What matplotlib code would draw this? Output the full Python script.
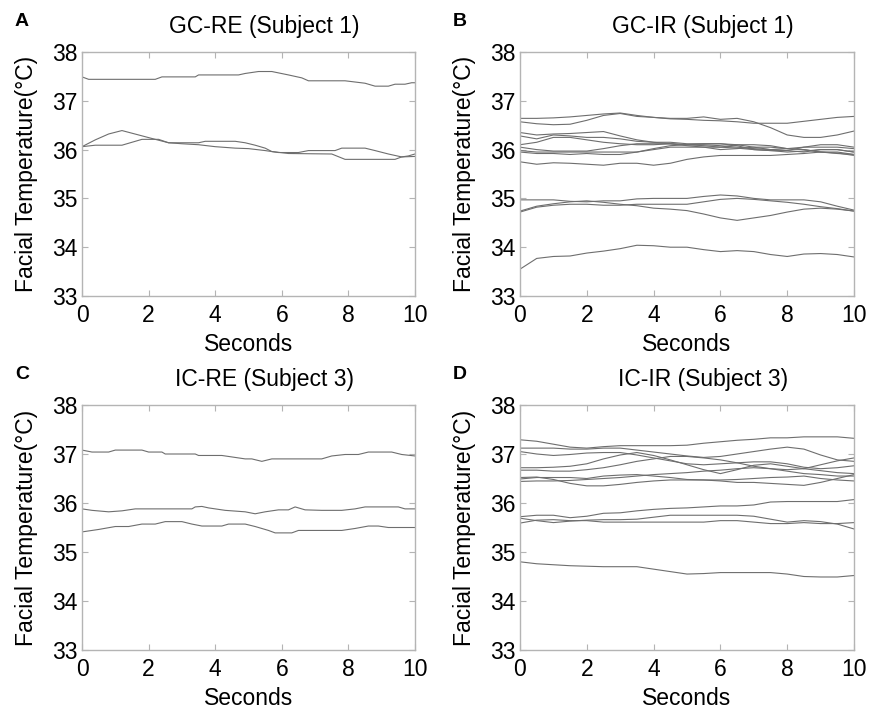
import matplotlib
matplotlib.use('Agg')
import matplotlib.pyplot as plt
import numpy as np

plt.rcParams['font.family'] = ['Liberation Sans', 'DejaVu Sans']

# common time grid (seconds) for the busy panels
t_grid = [0, 0.5, 1, 1.5, 2, 2.5, 3, 3.5, 4, 4.5, 5, 5.5, 6, 6.5, 7, 7.5, 8, 8.5, 9, 9.5, 10]

# ---- A: GC-RE (Subject 1)
a1_t = [0, 0.2, 2.2, 2.4, 3.4, 3.5, 4.7, 4.9, 5.3, 5.7, 6.2, 6.6, 6.8, 7.9, 8.5, 8.8, 9.2, 9.4, 9.7, 9.9, 10]
a1_v = [37.49, 37.44, 37.44, 37.49, 37.49, 37.53, 37.53, 37.56, 37.60, 37.60, 37.53, 37.47, 37.41, 37.41,
        37.36, 37.30, 37.30, 37.34, 37.34, 37.37, 37.37]
a2_t = [0, 0.4, 0.8, 1.2, 1.7, 2.2, 2.6, 3.0, 3.5, 4.0, 4.6, 5.0, 5.5, 5.9, 6.5, 6.8, 7.6, 7.8, 8.5, 8.8,
        9.2, 9.6, 9.8, 10]
a2_v = [36.06, 36.20, 36.32, 36.39, 36.30, 36.21, 36.14, 36.12, 36.10, 36.06, 36.03, 36.02, 35.98, 35.94,
        35.94, 35.98, 35.98, 36.03, 36.03, 35.98, 35.91, 35.85, 35.87, 35.91]
a3_t = [0, 0.4, 1.2, 1.5, 1.8, 2.3, 2.6, 3.5, 3.7, 4.6, 4.9, 5.2, 5.5, 5.7, 6.2, 7.5, 7.9, 9.4, 9.6, 10]
a3_v = [36.06, 36.09, 36.09, 36.15, 36.21, 36.21, 36.14, 36.14, 36.17, 36.17, 36.14, 36.09, 36.03, 35.96,
        35.92, 35.91, 35.80, 35.80, 35.85, 35.86]

# ---- B: GC-IR (Subject 1), values on t_grid
gc_ir = [
    [36.64, 36.64, 36.65, 36.67, 36.70, 36.73, 36.75, 36.70, 36.66, 36.64, 36.64, 36.67, 36.62, 36.64, 36.57,
     36.45, 36.30, 36.25, 36.25, 36.30, 36.38],
    [36.57, 36.53, 36.51, 36.52, 36.60, 36.70, 36.74, 36.68, 36.66, 36.63, 36.62, 36.60, 36.59, 36.57, 36.54,
     36.54, 36.54, 36.58, 36.62, 36.66, 36.68],
    [36.35, 36.30, 36.32, 36.33, 36.35, 36.37, 36.28, 36.20, 36.15, 36.12, 36.10, 36.08, 36.05, 36.03, 36.00,
     35.98, 35.95, 35.97, 36.00, 36.00, 35.95],
    [36.28, 36.22, 36.30, 36.28, 36.25, 36.25, 36.22, 36.17, 36.15, 36.15, 36.12, 36.12, 36.12, 36.10, 36.05,
     36.00, 35.98, 36.05, 36.10, 36.10, 36.05],
    [36.10, 36.15, 36.25, 36.25, 36.20, 36.15, 36.12, 36.10, 36.10, 36.12, 36.10, 36.10, 36.08, 36.05, 36.02,
     36.00, 36.02, 36.00, 35.95, 35.95, 35.90],
    [36.05, 36.00, 35.97, 35.97, 35.97, 36.02, 36.08, 36.12, 36.12, 36.12, 36.08, 36.05, 36.05, 36.10, 36.10,
     36.08, 36.02, 36.00, 35.95, 35.93, 35.88],
    [35.98, 35.95, 35.95, 35.95, 35.95, 35.95, 35.95, 35.95, 36.02, 36.08, 36.10, 36.12, 36.12, 36.08, 36.00,
     35.98, 35.98, 35.95, 36.00, 36.00, 35.95],
    [35.95, 35.92, 35.92, 35.90, 35.92, 35.90, 35.90, 35.95, 36.00, 36.05, 36.05, 36.05, 36.00, 36.02, 36.05,
     36.05, 36.02, 36.05, 36.05, 36.05, 36.02],
    [35.75, 35.70, 35.73, 35.72, 35.70, 35.68, 35.72, 35.72, 35.68, 35.72, 35.80, 35.85, 35.88, 35.88, 35.88,
     35.88, 35.90, 35.92, 35.95, 35.92, 35.90],
    [34.97, 34.97, 34.97, 34.94, 34.93, 34.95, 34.95, 34.99, 35.00, 35.00, 35.00, 35.04, 35.07, 35.05, 35.00,
     34.97, 34.97, 34.97, 34.93, 34.84, 34.76],
    [34.74, 34.84, 34.89, 34.93, 34.95, 34.92, 34.88, 34.85, 34.80, 34.78, 34.75, 34.68, 34.60, 34.55, 34.60,
     34.65, 34.72, 34.78, 34.80, 34.78, 34.74],
    [34.72, 34.82, 34.86, 34.88, 34.88, 34.86, 34.86, 34.88, 34.88, 34.88, 34.88, 34.93, 34.98, 35.00, 34.98,
     34.95, 34.92, 34.88, 34.83, 34.79, 34.74],
    [33.55, 33.77, 33.81, 33.82, 33.88, 33.92, 33.97, 34.04, 34.03, 34.00, 34.00, 33.95, 33.91, 33.93, 33.91,
     33.85, 33.81, 33.86, 33.87, 33.85, 33.80],
]

# ---- C: IC-RE (Subject 3)
c1_t = [0, 0.3, 0.8, 1.0, 1.8, 2.0, 2.4, 2.5, 3.4, 3.5, 4.2, 4.5, 4.9, 5.1, 5.4, 5.7, 7.2, 7.5, 7.9, 8.3,
        8.6, 9.3, 9.6, 10]
c1_v = [37.08, 37.04, 37.04, 37.08, 37.08, 37.04, 37.04, 37.00, 37.00, 36.97, 36.97, 36.94, 36.90, 36.90,
        36.85, 36.90, 36.90, 36.96, 36.99, 36.99, 37.04, 37.04, 36.99, 36.96]
c2_t = [0, 0.3, 0.8, 1.2, 1.6, 3.3, 3.4, 3.6, 3.8, 4.3, 4.9, 5.2, 5.5, 5.9, 6.2, 6.4, 6.7, 7.2, 7.8, 8.2,
        8.5, 9.5, 9.7, 10]
c2_v = [35.88, 35.85, 35.82, 35.84, 35.88, 35.88, 35.92, 35.93, 35.90, 35.85, 35.82, 35.78, 35.82, 35.86,
        35.86, 35.92, 35.86, 35.85, 35.85, 35.88, 35.92, 35.92, 35.88, 35.88]
c3_t = [0, 0.5, 1.0, 1.4, 1.8, 2.2, 2.5, 3.0, 3.3, 3.6, 4.2, 4.4, 4.9, 5.2, 5.6, 5.8, 6.3, 6.5, 7.8, 8.2,
        8.6, 8.9, 9.2, 10]
c3_v = [35.41, 35.46, 35.52, 35.52, 35.57, 35.57, 35.62, 35.62, 35.57, 35.53, 35.53, 35.57, 35.57, 35.52,
        35.44, 35.39, 35.39, 35.44, 35.44, 35.48, 35.53, 35.53, 35.50, 35.50]

# ---- D: IC-IR (Subject 3), values on t_grid
ic_ir = [
    [37.29, 37.26, 37.20, 37.14, 37.12, 37.15, 37.17, 37.17, 37.17, 37.17, 37.18, 37.22, 37.25, 37.28, 37.30,
     37.33, 37.33, 37.35, 37.35, 37.35, 37.32],
    [37.12, 37.12, 37.12, 37.10, 37.10, 37.12, 37.12, 37.08, 37.04, 37.00, 36.96, 36.93, 36.95, 37.00, 37.05,
     37.10, 37.14, 37.10, 36.98, 36.88, 36.85],
    [37.05, 37.00, 36.97, 36.99, 37.02, 37.03, 37.03, 36.98, 36.92, 36.86, 36.80, 36.78, 36.80, 36.82, 36.84,
     36.84, 36.80, 36.73, 36.70, 36.72, 36.76],
    [36.72, 36.72, 36.73, 36.75, 36.80, 36.90, 36.98, 37.03, 36.97, 36.88, 36.78, 36.68, 36.60, 36.68, 36.77,
     36.80, 36.75, 36.70, 36.66, 36.62, 36.60],
    [36.67, 36.67, 36.65, 36.65, 36.68, 36.72, 36.78, 36.85, 36.90, 36.95, 36.95, 36.92, 36.88, 36.82, 36.75,
     36.70, 36.68, 36.70, 36.78, 36.86, 36.92],
    [36.52, 36.53, 36.48, 36.40, 36.35, 36.35, 36.38, 36.42, 36.45, 36.47, 36.47, 36.47, 36.45, 36.42, 36.42,
     36.40, 36.38, 36.36, 36.42, 36.50, 36.58],
    [36.49, 36.52, 36.52, 36.52, 36.50, 36.55, 36.57, 36.58, 36.55, 36.52, 36.48, 36.47, 36.47, 36.48, 36.50,
     36.52, 36.53, 36.55, 36.50, 36.47, 36.45],
    [36.44, 36.45, 36.45, 36.46, 36.48, 36.50, 36.52, 36.55, 36.58, 36.60, 36.62, 36.65, 36.67, 36.70, 36.72,
     36.70, 36.65, 36.60, 36.58, 36.55, 36.55],
    [35.72, 35.75, 35.75, 35.70, 35.73, 35.79, 35.80, 35.84, 35.87, 35.89, 35.90, 35.92, 35.94, 35.94, 35.96,
     36.02, 36.03, 36.03, 36.03, 36.03, 36.07],
    [35.69, 35.64, 35.60, 35.63, 35.65, 35.66, 35.66, 35.67, 35.71, 35.75, 35.75, 35.75, 35.75, 35.75, 35.73,
     35.67, 35.61, 35.64, 35.62, 35.57, 35.47],
    [35.59, 35.65, 35.66, 35.64, 35.64, 35.61, 35.61, 35.61, 35.61, 35.61, 35.61, 35.61, 35.64, 35.64, 35.61,
     35.58, 35.58, 35.60, 35.58, 35.58, 35.60],
    [34.80, 34.76, 34.74, 34.72, 34.71, 34.70, 34.70, 34.70, 34.65, 34.60, 34.55, 34.56, 34.58, 34.58, 34.58,
     34.58, 34.55, 34.50, 34.49, 34.49, 34.52],
]

titles = ['GC-RE (Subject 1)', 'GC-IR (Subject 1)', 'IC-RE (Subject 3)', 'IC-IR (Subject 3)']
letters = ['A', 'B', 'C', 'D']

line_c = '#6e6e6e'
spine_c = '#b4b4b4'

fig = plt.figure(figsize=(8.71, 7.11), dpi=100)
W, H = 871, 711
boxes = [(82, 52, 333, 244), (520, 52, 334, 244), (82, 405, 333, 245), (520, 405, 334, 245)]
axes = []
for (x0, y0, w, h) in boxes:
    axes.append(fig.add_axes([x0 / W, 1 - (y0 + h) / H, w / W, h / H]))

axA, axB, axC, axD = axes
axA.plot(a1_t, a1_v, color=line_c, lw=0.8)
axA.plot(a2_t, a2_v, color=line_c, lw=0.8)
axA.plot(a3_t, a3_v, color=line_c, lw=0.8)
for v in gc_ir:
    axB.plot(t_grid, v, color=line_c, lw=0.8)
axC.plot(c1_t, c1_v, color=line_c, lw=0.8)
axC.plot(c2_t, c2_v, color=line_c, lw=0.8)
axC.plot(c3_t, c3_v, color=line_c, lw=0.8)
for v in ic_ir:
    axD.plot(t_grid, v, color=line_c, lw=0.8)

for ax, ttl, let, (x0, y0, w, h) in zip(axes, titles, letters, boxes):
    ax.set_xlim(0, 10)
    ax.set_ylim(33, 38)
    ax.set_xticks([0, 2, 4, 6, 8, 10])
    ax.set_yticks([33, 34, 35, 36, 37, 38])
    ax.tick_params(direction='in', length=4, width=0.8, color=spine_c, labelsize=16.5,
                   top=True, right=True)
    ax.tick_params(axis='x', pad=6)
    ax.tick_params(axis='y', pad=3)
    for s in ax.spines.values():
        s.set_color(spine_c)
        s.set_linewidth(1.0)
    # titles sit a little right of the axes centre in the original
    ax.set_title(ttl, fontsize=16.5, pad=14, x=0.5 + 16 / w)
    ax.set_xlabel('Seconds', fontsize=16.5, labelpad=4)
    ax.set_ylabel('Facial Temperature(\u00b0C)', fontsize=16.5, labelpad=10)
    fig.text((x0 - 67) / W, 1 - (y0 - 31) / H, let, fontsize=14, fontweight='bold', va='center')

fig.savefig('out.png', dpi=100)
